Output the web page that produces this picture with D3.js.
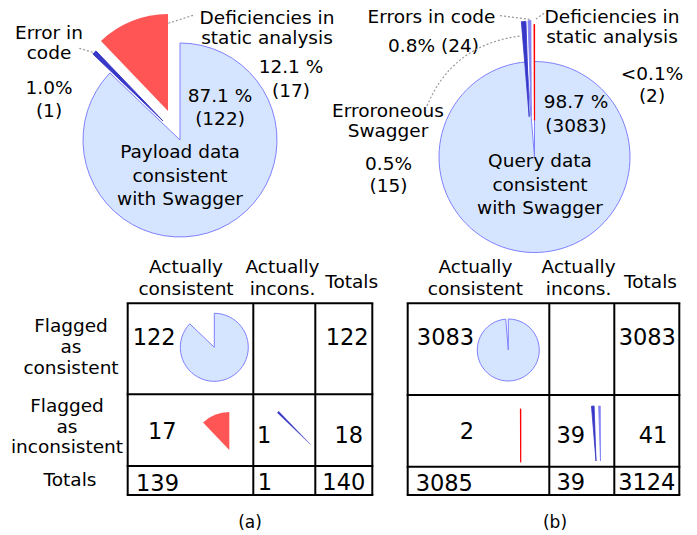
<!DOCTYPE html>
<html><head><meta charset="utf-8">
<script src="https://cdn.jsdelivr.net/npm/d3@7"></script>
<style>
body{margin:0;background:#fff}
svg{display:block}
text{font-family:"DejaVu Sans",sans-serif;fill:#000}
</style>
</head><body>
<svg id="c" width="697" height="535"></svg>
<script>
// ---------------- DATA ----------------
const categoriesA = ["consistent", "errorCode", "deficiency"];
const countsA = [122, 1, 17];
const percentA = ["87.1 %", "1.0%", "12.1 %"];
const namesA = [["Payload data", "consistent", "with Swagger"], ["Error in", "code"], ["Deficiencies in", "static analysis"]];

const categoriesB = ["consistent", "errorCode", "errSwagger", "deficiency"];
const countsB = [3083, 24, 15, 2];
const percentB = ["98.7 %", "0.8%", "0.5%", "<0.1%"];
const namesB = [["Query data", "consistent", "with Swagger"], ["Errors in code"], ["Erroroneous", "Swagger"], ["Deficiencies in", "static analysis"]];

const colHeaders = [["Actually", "consistent"], ["Actually", "incons."], ["Totals"]];
const rowHeaders = [["Flagged", "as", "consistent"], ["Flagged", "as", "inconsistent"], ["Totals"]];
const tableA = [[122, null, 122], [17, 1, 18], [139, 1, 140]];
const tableB = [[3083, null, 3083], [2, 39, 41], [3085, 39, 3124]];
const panelLabels = ["(a)", "(b)"];

// ---------------- STYLE ----------------
const fills = {consistent: "#d5e5ff", errorCode: "#3737c8", errSwagger: "#8282f6", deficiency: "#ff5555"};
const strokes = {consistent: "#8080ff", errorCode: "#3737c8", errSwagger: "#8282f6", deficiency: "#ff0000"};
const F = 18.5, FN = 22.5;

const svg = d3.select("#c");
const pie = d3.pie().sort(null).value(d => d);

function label(lines, cx, baselines, size) {
  lines.forEach((t, i) => {
    svg.append("text").attr("x", cx).attr("y", baselines[i])
      .attr("text-anchor", "middle").attr("font-size", size || F).text(t);
  });
}
function leader(pathD) {
  svg.append("path").attr("d", pathD).attr("fill", "none")
    .attr("stroke", "#999").attr("stroke-width", 1.2).attr("stroke-dasharray", "2,2");
}
function slice(arcDatum, cat, x, y, r, strokeW) {
  const arc = d3.arc().innerRadius(0).outerRadius(r);
  svg.append("path").attr("transform", `translate(${x},${y})`)
    .attr("d", arc(arcDatum))
    .attr("fill", fills[cat])
    .attr("stroke", strokeW ? strokes[cat] : "none")
    .attr("stroke-width", strokeW || 0)
    .attr("stroke-linejoin", "round");
}

// ---------------- PIE (a) ----------------
const arcsA = pie(countsA);
const pA = {cx: 180, cy: 140, r: 97, off: [[0, 0], [-17, -19], [-12, -29]], sw: [1, 1, 0]};
arcsA.forEach((d, i) => slice(d, categoriesA[i], pA.cx + pA.off[i][0], pA.cy + pA.off[i][1], pA.r, pA.sw[i]));

label(namesA[0], 180, [158, 181.5, 205]);
label([percentA[0], `(${countsA[0]})`], 220, [102, 125]);
label(namesA[1], 49, [39, 59]);
label([percentA[1], `(${countsA[1]})`], 49, [94, 116.5]);
label(namesA[2], 267, [24, 44]);
label([percentA[2], `(${countsA[2]})`], 291, [73, 96.5]);
leader("M168.3,23.3L194,15");
leader("M79.3,48.3L94.3,52.7");

// ---------------- PIE (b) ----------------
const arcsB = pie(countsB);
const pB = {cx: 534.5, cy: 157, r: 95.5, off: [[0, 0], [-5.3, -40.2], [-3.2, -41], [0, -37]], sw: [1, 0.8, 0.8, 1.2]};
arcsB.forEach((d, i) => slice(d, categoriesB[i], pB.cx + pB.off[i][0], pB.cy + pB.off[i][1], pB.r, pB.sw[i]));

label(namesB[0], 540, [166.5, 190.5, 214]);
label([percentB[0], `(${countsB[0]})`], 576, [108, 131.5]);
label(namesB[1], 431.5, [23]);
label([`${percentB[1]} (${countsB[1]})`], 433.5, [52]);
label(namesB[2], 388, [116.5, 137]);
label([percentB[2], `(${countsB[2]})`], 388.5, [170, 192]);
label(namesB[3], 612, [23, 43]);
label([percentB[3], `(${countsB[3]})`], 652, [80, 102]);
leader("M500,15.7L530,19.3");
leader("M544,13.3L535.5,19.3");
leader("M427,106Q452,45 520,36");

// ---------------- TABLES ----------------
const tables = [
  {data: tableA, xs: [127.7, 253.3, 315.3, 372.3], ys: [303.3, 394.3, 466, 495],
   head: [186, 282.5, 351.7],
   num: [[[154.2, 345], null, [347.2, 345]], [[162.3, 439], [264.2, 442.7], [348.7, 442.7]], [[157.5, 490.7], [265, 490], [343.8, 490]]],
   minis: [{s: 0, x: 214.3, y: 347.3, r: 34, sw: 1}, {s: 2, x: 229.3, y: 450, r: 38, sw: 0}, {s: 1, x: 310.5, y: 444.5, r: 46, sw: 0.3}],
   arcs: arcsA, cats: categoriesA, panel: 250},
  {data: tableB, xs: [407.7, 549.3, 614.3, 679.3], ys: [303.3, 395, 466.7, 495],
   head: [475.4, 578.6, 650.5],
   num: [[[445.5, 345], null, [647.3, 345]], [[467, 439.3], [570.8, 442.7], [653, 442.7]], [[444.3, 490.7], [570.8, 490], [646.8, 490]]],
   minis: [{s: 0, x: 508.3, y: 350, r: 31, sw: 1}, {s: 3, x: 520.7, y: 462, r: 53, sw: 1.2}, {s: 1, x: 596, y: 461, r: 55, sw: 0.8}, {s: 2, x: 600.5, y: 461, r: 55, sw: 0.8}],
   arcs: arcsB, cats: categoriesB, panel: 555}
];

tables.forEach(T => {
  // minis
  T.minis.forEach(m => slice(T.arcs[m.s], T.cats[m.s], m.x, m.y, m.r, m.sw));
  // grid
  const g = svg.append("g").attr("stroke", "#000").attr("stroke-width", 2).attr("fill", "none");
  T.xs.forEach(x => g.append("line").attr("x1", x).attr("x2", x).attr("y1", T.ys[0]).attr("y2", T.ys[3]));
  T.ys.forEach(y => g.append("line").attr("x1", T.xs[0] - 1).attr("x2", T.xs[3] + 1).attr("y1", y).attr("y2", y));
  // headers
  colHeaders.forEach((h, j) => label(h, T.head[j], h.length === 2 ? [273, 295] : [288]));
  // numbers
  T.data.forEach((row, i) => row.forEach((v, j) => {
    if (v === null) return;
    svg.append("text").attr("x", T.num[i][j][0]).attr("y", T.num[i][j][1])
      .attr("text-anchor", "middle").attr("font-size", FN).text(v);
  }));
});
// row headers (table a only)
label(rowHeaders[0], 71, [332, 353, 374]);
label(rowHeaders[1], 67, [412, 433, 453.3]);
label(rowHeaders[2], 70, [486]);
// panel labels
label([panelLabels[0]], 250, [527.5], 17);
label([panelLabels[1]], 555, [527.5], 17);
</script>
</body></html>
